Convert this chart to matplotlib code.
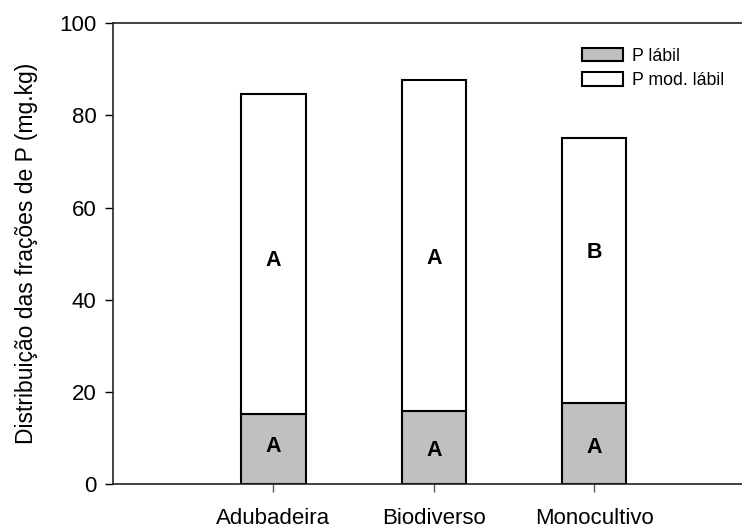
import matplotlib
matplotlib.use("Agg")
import matplotlib.pyplot as plt
from matplotlib.patches import Patch

plt.rcParams['font.family'] = ['Liberation Sans', 'DejaVu Sans']

# dados
tratamentos = ['Adubadeira', 'Biodiverso', 'Monocultivo']
p_labil = [15.3, 15.9, 17.7]
p_total = [84.6, 87.8, 75.1]
p_mod_labil = [t - l for t, l in zip(p_total, p_labil)]
letras_labil = ['A', 'A', 'A']
letras_mod = ['A', 'A', 'B']
y_letras_labil = [8.3, 7.3, 7.9]
y_letras_mod = [48.5, 49.0, 50.3]

x = [1, 2, 3]

fig = plt.figure(figsize=(7.42, 5.32), dpi=100)
ax = fig.add_axes([0.1523, 0.0897, 0.8477, 0.8665])

ax.bar(x, p_labil, width=0.4, color='#c0c0c0', edgecolor='black', linewidth=1.5)
ax.bar(x, p_mod_labil, width=0.4, bottom=p_labil, color='white', edgecolor='black', linewidth=1.5)

for xi, yl, ym, la, lm in zip(x, y_letras_labil, y_letras_mod, letras_labil, letras_mod):
    ax.text(xi, yl, la, ha='center', va='center', fontsize=15.5, fontweight='bold')
    ax.text(xi, ym, lm, ha='center', va='center', fontsize=15.5, fontweight='bold')

ax.set_xlim(0, 3.92)
ax.set_ylim(0, 100)
ax.set_yticks([0, 20, 40, 60, 80, 100])
ax.set_xticks(x)
ax.set_xticklabels(tratamentos)
ax.tick_params(axis='y', direction='out', length=6, width=1, labelsize=16, pad=6)
ax.tick_params(axis='x', direction='out', length=6, width=1, colors='#555555', labelsize=16, pad=11)
for lbl in ax.get_xticklabels():
    lbl.set_color('black')
ax.spines['right'].set_visible(False)
for s in ['left', 'top', 'bottom']:
    ax.spines[s].set_linewidth(1.2)
    ax.spines[s].set_color('#222222')

ax.set_ylabel('Distribuição das frações de P (mg.kg)', fontsize=16.5, labelpad=15)

handles = [Patch(facecolor='#c0c0c0', edgecolor='black', linewidth=1.5),
           Patch(facecolor='white', edgecolor='black', linewidth=1.5)]
ax.legend(handles, ['P lábil', 'P mod. lábil'], loc='upper left',
          bbox_to_anchor=(0.745, 0.947), frameon=False, fontsize=12.8,
          handlelength=2.35, handleheight=0.75, handletextpad=0.5,
          labelspacing=0.42, borderpad=0, borderaxespad=0)

fig.savefig('out.png', dpi=100)
